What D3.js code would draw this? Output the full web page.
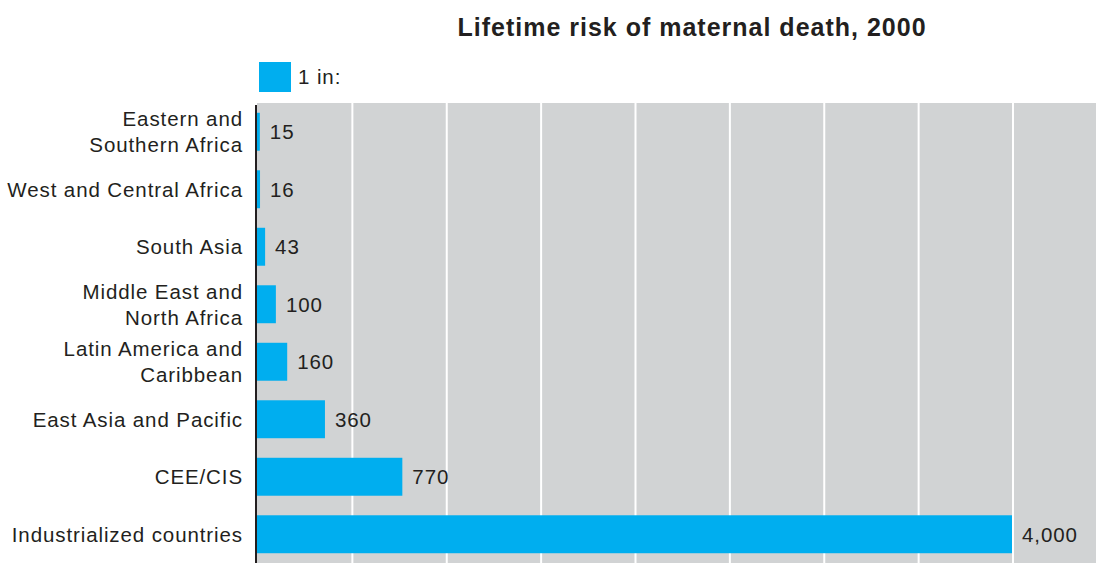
<!DOCTYPE html>
<html>
<head>
<meta charset="utf-8">
<script src="https://cdn.jsdelivr.net/npm/d3@7/dist/d3.min.js"></script>
<style>
  body { margin: 0; background: #fff; }
  text { font-family: "Liberation Sans", Arial, sans-serif; fill: #231f20; }
  .lbl { font-size: 20.5px; letter-spacing: 0.9px; }
  .title { font-size: 25px; font-weight: bold; letter-spacing: 1px; }
</style>
</head>
<body>
<div id="chart"></div>
<script>
var regions = [
  ["Eastern and", "Southern Africa"],
  ["West and Central Africa"],
  ["South Asia"],
  ["Middle East and", "North Africa"],
  ["Latin America and", "Caribbean"],
  ["East Asia and Pacific"],
  ["CEE/CIS"],
  ["Industrialized countries"]
];
var riskValues = [15, 16, 43, 100, 160, 360, 770, 4000];
var gridTicks = [500, 1000, 1500, 2000, 2500, 3000, 3500, 4000];
var legendLabel = "1 in:";
var titleText = "Lifetime risk of maternal death, 2000";

var W = 1096, H = 563;
var margin = {top: 103, right: 0, bottom: 0, left: 257};

var svg = d3.select("#chart").append("svg")
    .attr("width", W)
    .attr("height", H);

var x = d3.scaleLinear()
    .domain([0, 4000])
    .range([margin.left, 1012]);

var y = d3.scaleBand()
    .domain(d3.range(regions.length))
    .range([margin.top, H])
    .paddingInner(0.34)
    .paddingOuter(0.17);

// gray plot background
svg.append("rect")
    .attr("x", margin.left)
    .attr("y", margin.top)
    .attr("width", W - margin.left)
    .attr("height", H - margin.top)
    .attr("fill", "#d1d3d4");

// white vertical grid lines
svg.selectAll(".grid").data(gridTicks).enter()
    .append("line")
    .attr("class", "grid")
    .attr("x1", function(d) { return x(d) + 1; })
    .attr("x2", function(d) { return x(d) + 1; })
    .attr("y1", margin.top)
    .attr("y2", H)
    .attr("stroke", "#fff")
    .attr("stroke-width", 2);

// bars
svg.selectAll(".bar").data(riskValues).enter()
    .append("rect")
    .attr("class", "bar")
    .attr("x", x(0))
    .attr("y", function(d, i) { return y(i); })
    .attr("width", function(d) { return x(d) - x(0); })
    .attr("height", y.bandwidth())
    .attr("fill", "#00aeef");

// axis line
svg.append("line")
    .attr("x1", margin.left - 1).attr("x2", margin.left - 1)
    .attr("y1", margin.top + 2).attr("y2", H)
    .attr("stroke", "#231f20")
    .attr("stroke-width", 2);

// value labels
var fmt = d3.format(",");
svg.selectAll(".val").data(riskValues).enter()
    .append("text")
    .attr("class", "lbl")
    .attr("x", function(d) { return x(d) + 10; })
    .attr("y", function(d, i) { return y(i) + y.bandwidth() / 2; })
    .attr("dy", "0.36em")
    .text(function(d) { return fmt(d); });

// category labels
var cat = svg.selectAll(".cat").data(regions).enter()
    .append("text")
    .attr("class", "lbl")
    .attr("text-anchor", "end")
    .attr("x", 243)
    .attr("y", function(d, i) { return y(i) + y.bandwidth() / 2; });

cat.selectAll("tspan").data(function(d) { return d; }).enter()
    .append("tspan")
    .attr("x", 243)
    .attr("dy", function(d, j, nodes) {
        var n = nodes.length;
        return j === 0 ? (0.36 * 20.5 - (n - 1) * 13) + "px" : "26px";
    })
    .text(function(d) { return d; });

// legend
svg.append("rect")
    .attr("x", 259).attr("y", 62)
    .attr("width", 32).attr("height", 30)
    .attr("fill", "#00aeef");
svg.append("text")
    .attr("class", "lbl")
    .attr("x", 298).attr("y", 84)
    .text(legendLabel);

// title
svg.append("text")
    .attr("class", "title")
    .attr("text-anchor", "middle")
    .attr("x", 692).attr("y", 36)
    .text(titleText);
</script>
</body>
</html>
